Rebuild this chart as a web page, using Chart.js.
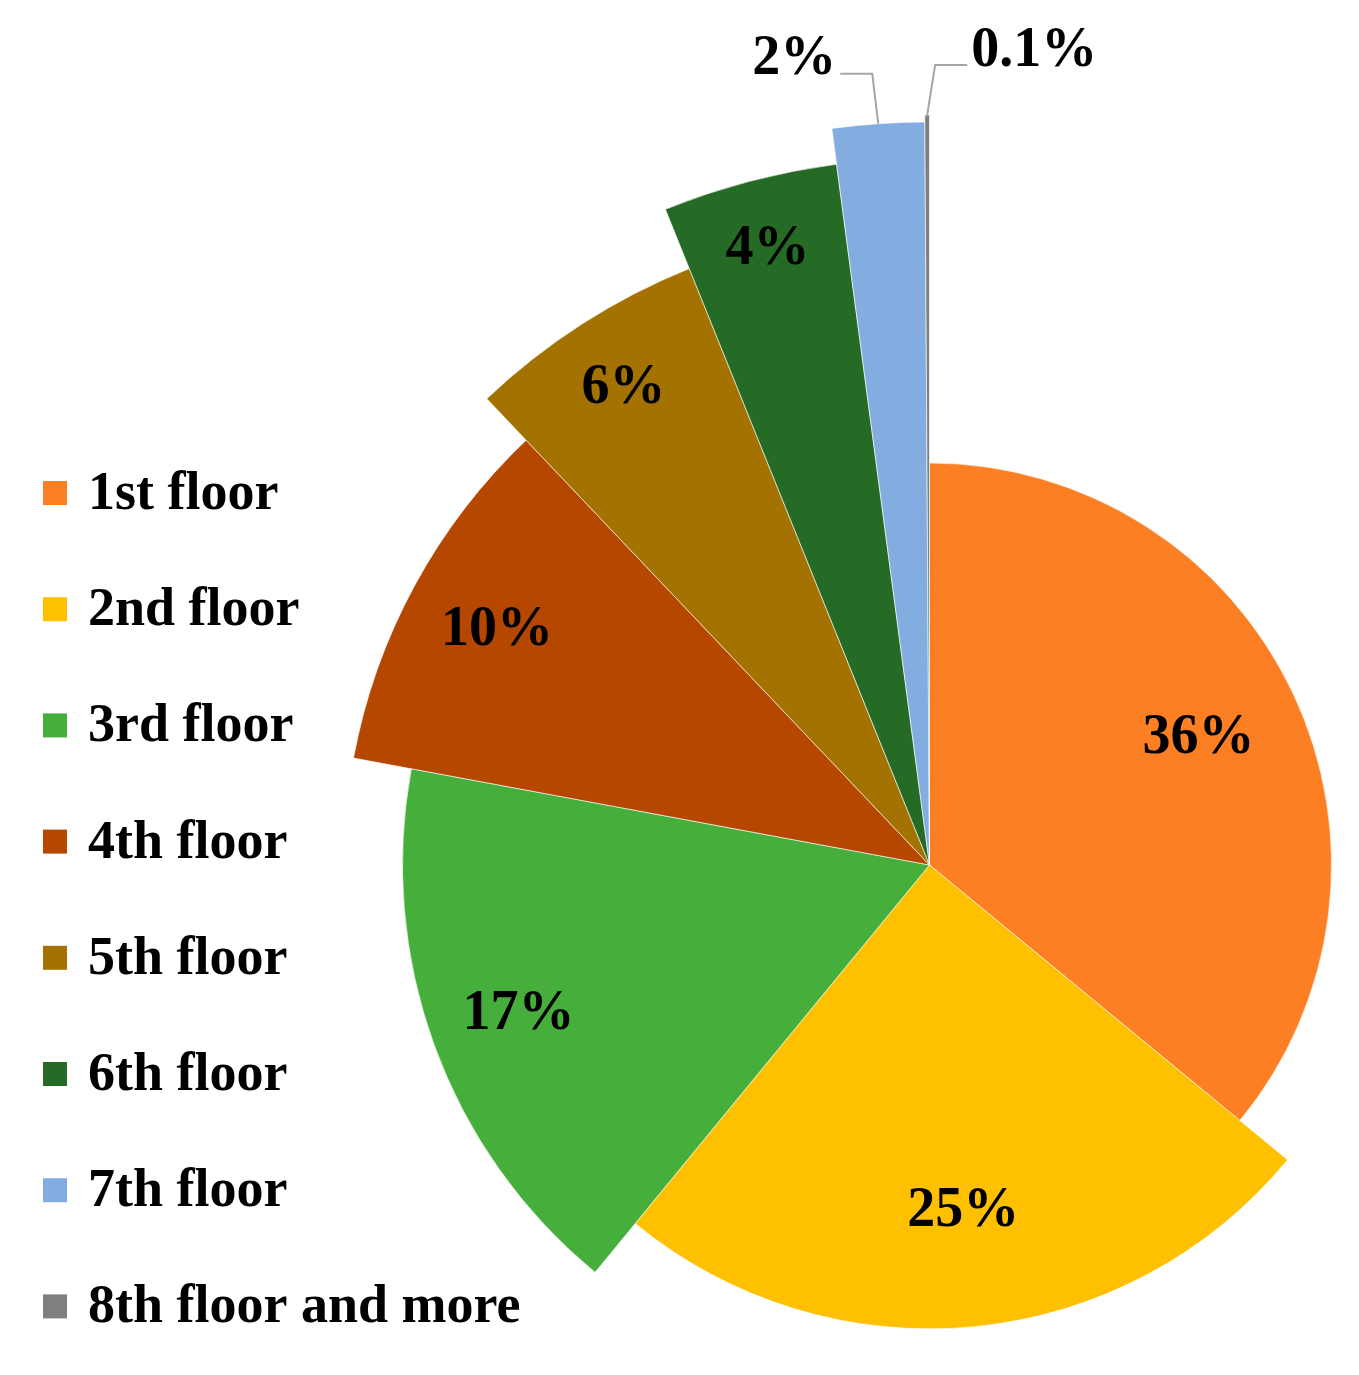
<!DOCTYPE html>
<html>
<head>
<meta charset="utf-8">
<script src="https://cdn.jsdelivr.net/npm/chart.js@4"></script>
<style>
  html, body { margin: 0; padding: 0; background: #fff; }
  #wrap { width: 1359px; height: 1375px; }
</style>
</head>
<body>
<div id="wrap"><canvas id="chart"></canvas></div>
<script>
// datos
const floors = ["1st floor", "2nd floor", "3rd floor", "4th floor", "5th floor", "6th floor", "7th floor", "8th floor and more"];
const shares = [36, 25, 17, 10, 6, 4, 2, 0.1];
const shareLabels = ["36%", "25%", "17%", "10%", "6%", "4%", "2%", "0.1%"];
// radio relativo de cada porción (la porción más grande sobresale más)
const radiusFactor = [0.936, 1.08, 1.227, 1.364, 1.497, 1.646, 1.73, 1.746];
const colors = ["#FD7F24", "#FFC000", "#46AF3B", "#B54700", "#A47200", "#266B25", "#83ADE0", "#7F7F7F"];

const serif = '"Liberation Serif", "Times New Roman", serif';

// Ajusta el radio de cada porción
const radiusPlugin = {
  id: "radius",
  afterDatasetsUpdate(chart) {
    const meta = chart.getDatasetMeta(0);
    const base = Math.min(chart.chartArea.width, chart.chartArea.height) / 2;
    meta.data.forEach((arc, i) => {
      arc.outerRadius = base * radiusFactor[i];
    });
  }
};

// Etiquetas de porcentaje y leyenda
const labelsPlugin = {
  id: "labels",
  afterDraw(chart) {
    const ctx = chart.ctx;
    const meta = chart.getDatasetMeta(0);
    ctx.save();
    ctx.font = "bold 56px " + serif;
    ctx.fillStyle = "#000";
    ctx.textAlign = "center";
    ctx.textBaseline = "middle";
    const inside = [0.74, 0.75, 0.83, 0.84, 0.88, 0.9];
    meta.data.forEach((arc, i) => {
      const mid = (arc.startAngle + arc.endAngle) / 2;
      if (i < inside.length) {
        const r = arc.outerRadius * inside[i];
        ctx.fillText(shareLabels[i], arc.x + Math.cos(mid) * r, arc.y + Math.sin(mid) * r);
      } else {
        // etiquetas fuera con línea guía
        const px = arc.x + Math.cos(mid) * arc.outerRadius;
        const py = arc.y + Math.sin(mid) * arc.outerRadius;
        const left = i === 6;
        const ex = left ? px - 6 : px + 8;
        const ey = py - 50;
        const hx = left ? ex - 32 : ex + 32;
        ctx.strokeStyle = "#A6A6A6";
        ctx.lineWidth = 2;
        ctx.beginPath();
        ctx.moveTo(px, py);
        ctx.lineTo(ex, ey);
        ctx.lineTo(hx, ey);
        ctx.stroke();
        ctx.textAlign = left ? "right" : "left";
        ctx.fillText(shareLabels[i], left ? hx - 4 : hx + 4, ey - 14);
        ctx.textAlign = "center";
      }
    });
    // leyenda
    ctx.textAlign = "left";
    ctx.textBaseline = "middle";
    ctx.font = "bold 54px " + serif;
    floors.forEach((name, i) => {
      const y = 493 + i * 116.2;
      ctx.fillStyle = colors[i];
      ctx.fillRect(43, y - 12, 24, 24);
      ctx.fillStyle = "#000";
      ctx.fillText(name, 88, y + 2);
    });
    ctx.restore();
  }
};

new Chart(document.getElementById("chart"), {
  type: "pie",
  data: {
    labels: floors,
    datasets: [{
      data: shares,
      backgroundColor: colors,
      borderColor: "rgba(255,255,255,0.6)",
      borderWidth: 1
    }]
  },
  options: {
    responsive: true,
    maintainAspectRatio: false,
    animation: false,
    layout: { padding: { left: 500, right: 0, top: 355, bottom: 0 } },
    plugins: {
      legend: { display: false },
      tooltip: { enabled: false }
    }
  },
  plugins: [radiusPlugin, labelsPlugin]
});
</script>
</body>
</html>
